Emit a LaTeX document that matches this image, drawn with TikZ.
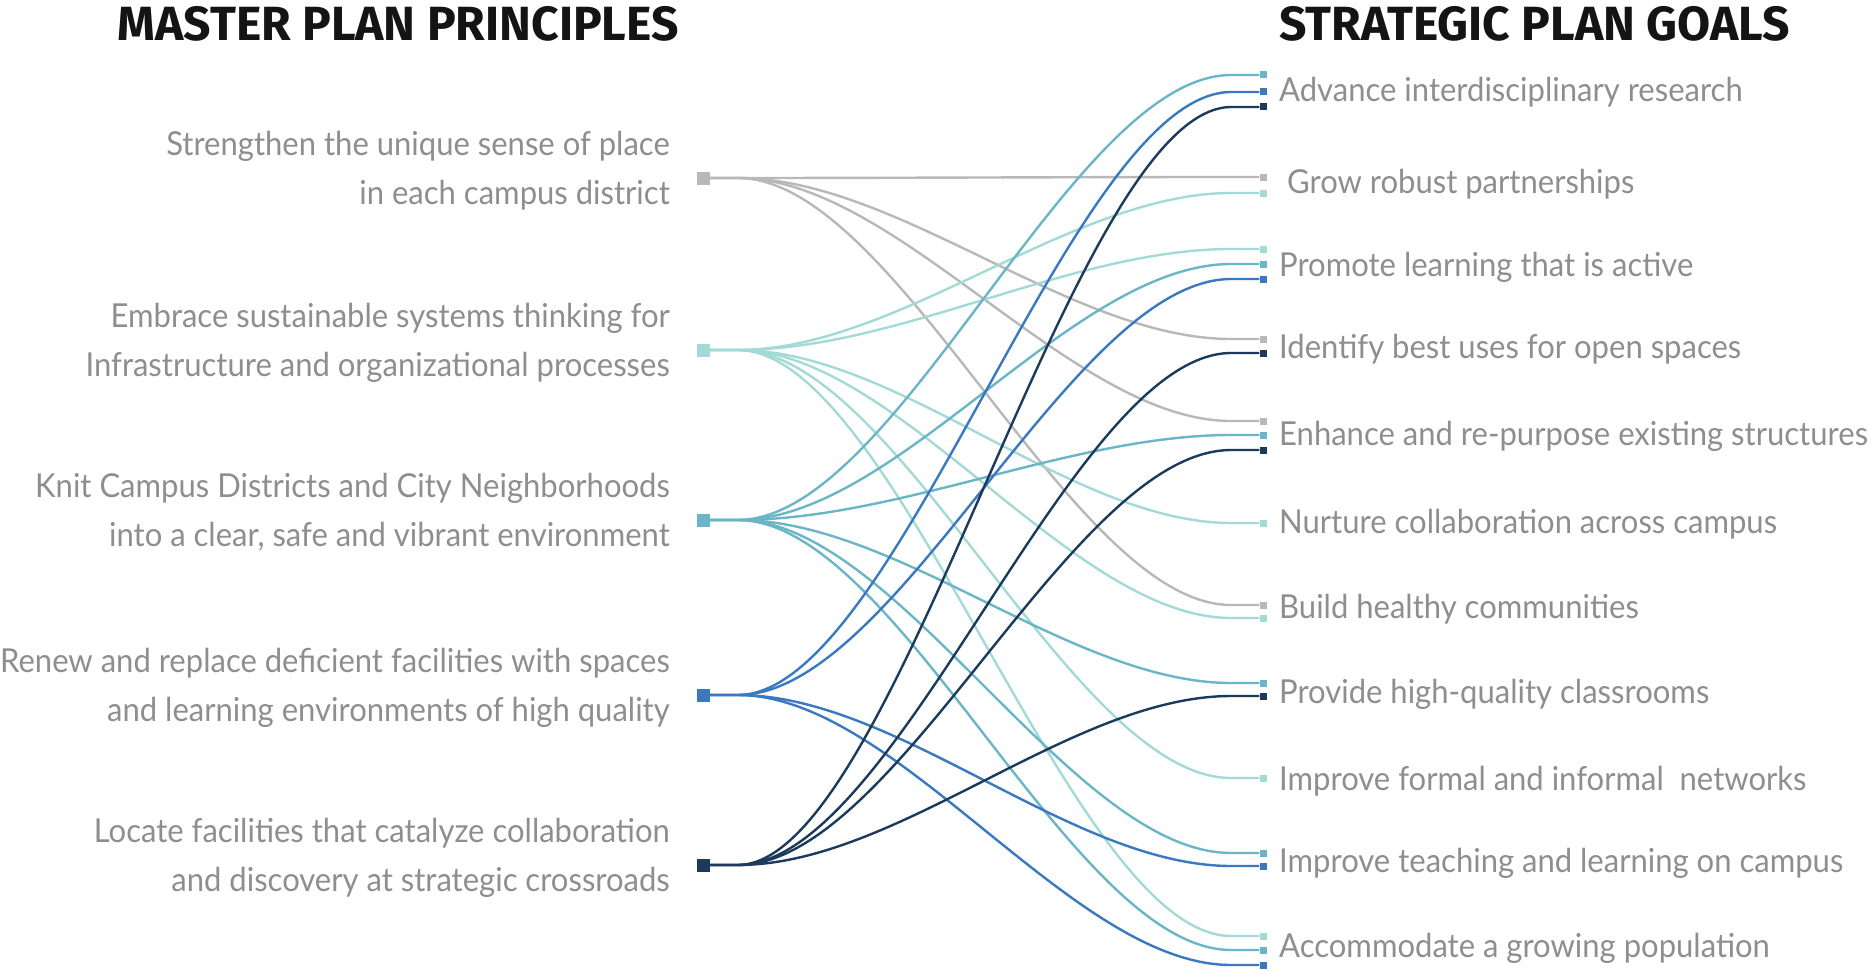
\documentclass[tikz,border=0pt]{standalone}
\usepackage{fontspec}
\setmainfont{Lato}[FakeStretch=0.94]
\newfontfamily\titlefont{Fira Sans}
\usetikzlibrary{calc}
\definecolor{cgray}{HTML}{B8B8B8}
\definecolor{cmint}{HTML}{A3DAD5}
\definecolor{cteal}{HTML}{6BB6C6}
\definecolor{cblue}{HTML}{3A78C0}
\definecolor{cnavy}{HTML}{1B3A5C}
\definecolor{ctext}{HTML}{8E8E8E}
\newcommand\lnk[3]{\draw[link=#1] (#2.east) -- ++(28,0) .. controls +(160,0) and +(-160,0) .. ([xshift=-28pt]#3.west) -- (#3.west);}
\begin{document}
\begin{tikzpicture}[x=1pt,y=-1pt,
  src/.style={fill=#1, minimum size=13pt, inner sep=0pt},
  tgt/.style={fill=#1, minimum size=7pt, inner sep=0pt},
  link/.style={draw=#1, line width=2.4pt},
  ltext/.style={font=\fontsize{33}{49}\selectfont, text=ctext, align=right, anchor=base east, inner sep=0pt},
  rtext/.style={font=\fontsize{33}{46}\selectfont, text=ctext, anchor=base west, inner sep=0pt},
  title/.style={font=\titlefont\bfseries\fontsize{48}{52}\selectfont, text=black!92, inner sep=0pt}]
\useasboundingbox (0,0) rectangle (1876,971);

% titles
\node[title, anchor=base east] (ttl1) at (679,41) {MASTER PLAN PRINCIPLES};
\node[title, anchor=base west] (ttl2) at (1279,41) {STRATEGIC PLAN GOALS};

% sources
\node[src=cgray] (s1) at (703,178) {};
\node[src=cmint] (s2) at (703,350) {};
\node[src=cteal] (s3) at (703,520) {};
\node[src=cblue] (s4) at (703,695) {};
\node[src=cnavy] (s5) at (703,865) {};

% left texts (anchor = baseline of the last line)
\node[ltext] (l1) at (670,204) {Strengthen the unique sense of place\\in each campus district};
\node[ltext] (l2) at (670,376) {Embrace sustainable systems thinking for\\Infrastructure and organizational processes};
\node[ltext] (l3) at (670,546) {Knit Campus Districts and City Neighborhoods\\into a clear, safe and vibrant environment};
\node[ltext] (l4) at (670,721) {Renew and replace deficient facilities with spaces\\and learning environments of high quality};
\node[ltext] (l5) at (670,891) {Locate facilities that catalyze collaboration\\and discovery at strategic crossroads};

% target markers
\node[tgt=cteal] (adv1) at (1263,75) {};
\node[tgt=cblue] (adv2) at (1263,92) {};
\node[tgt=cnavy] (adv3) at (1263,107) {};
\node[tgt=cgray] (gro1) at (1263,177) {};
\node[tgt=cmint] (gro2) at (1263,193) {};
\node[tgt=cmint] (pro1) at (1263,249) {};
\node[tgt=cteal] (pro2) at (1263,264) {};
\node[tgt=cblue] (pro3) at (1263,279) {};
\node[tgt=cgray] (ide1) at (1263,339) {};
\node[tgt=cnavy] (ide2) at (1263,353) {};
\node[tgt=cgray] (enh1) at (1263,421) {};
\node[tgt=cteal] (enh2) at (1263,435) {};
\node[tgt=cnavy] (enh3) at (1263,450) {};
\node[tgt=cmint] (nur1) at (1263,523) {};
\node[tgt=cgray] (bui1) at (1263,605) {};
\node[tgt=cmint] (bui2) at (1263,618) {};
\node[tgt=cteal] (prv1) at (1263,683) {};
\node[tgt=cnavy] (prv2) at (1263,696) {};
\node[tgt=cmint] (frm1) at (1263,778) {};
\node[tgt=cteal] (tea1) at (1263,853) {};
\node[tgt=cblue] (tea2) at (1263,866) {};
\node[tgt=cmint] (acc1) at (1263,936) {};
\node[tgt=cteal] (acc2) at (1263,950) {};
\node[tgt=cblue] (acc3) at (1263,965) {};

% right texts
\node[rtext] (r1) at (1279,102) {Advance interdisciplinary research};
\node[rtext] (r2) at (1279,193) {\ Grow robust partnerships};
\node[rtext] (r3) at (1279,276) {Promote learning that is active};
\node[rtext] (r4) at (1279,358) {Identify best uses for open spaces};
\node[rtext] (r5) at (1279,445) {Enhance and re-purpose existing structures};
\node[rtext] (r6) at (1279,533) {Nurture collaboration across campus};
\node[rtext] (r7) at (1279,618) {Build healthy communities};
\node[rtext] (r8) at (1279,703) {Provide high-quality classrooms};
\node[rtext] (r9) at (1279,790) {Improve formal and informal\ \ networks};
\node[rtext] (r10) at (1279,872) {Improve teaching and learning on campus};
\node[rtext] (r11) at (1279,957) {Accommodate a growing population};

% connectors
\lnk{cgray}{s1}{gro1}
\lnk{cgray}{s1}{ide1}
\lnk{cgray}{s1}{enh1}
\lnk{cgray}{s1}{bui1}
\lnk{cmint}{s2}{gro2}
\lnk{cmint}{s2}{pro1}
\lnk{cmint}{s2}{nur1}
\lnk{cmint}{s2}{bui2}
\lnk{cmint}{s2}{frm1}
\lnk{cmint}{s2}{acc1}
\lnk{cteal}{s3}{adv1}
\lnk{cteal}{s3}{pro2}
\lnk{cteal}{s3}{enh2}
\lnk{cteal}{s3}{prv1}
\lnk{cteal}{s3}{tea1}
\lnk{cteal}{s3}{acc2}
\lnk{cblue}{s4}{adv2}
\lnk{cblue}{s4}{pro3}
\lnk{cblue}{s4}{tea2}
\lnk{cblue}{s4}{acc3}
\lnk{cnavy}{s5}{adv3}
\lnk{cnavy}{s5}{ide2}
\lnk{cnavy}{s5}{enh3}
\lnk{cnavy}{s5}{prv2}
\end{tikzpicture}
\end{document}
